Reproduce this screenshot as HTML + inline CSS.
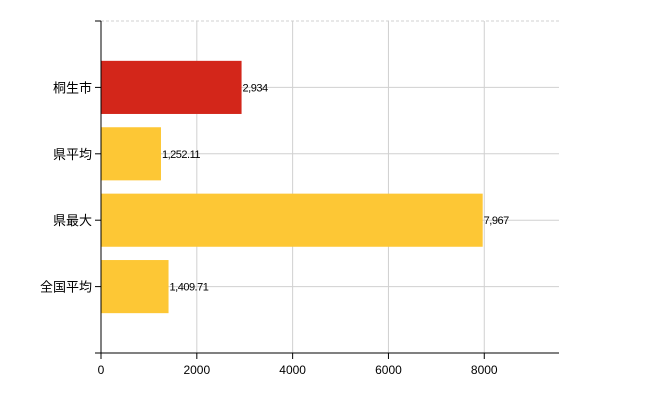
<!DOCTYPE html>
<html><head><meta charset="utf-8"><style>
body{margin:0;background:#fff;}
svg{font-family:"Liberation Sans","Noto Sans CJK JP",sans-serif;}
</style></head><body>
<svg id="c" width="650" height="400"></svg>
<script>
const categories=["桐生市","県平均","県最大","全国平均"];
const values=[2934,1252.11,7967,1409.71];
const valueLabels=["2,934","1,252.11","7,967","1,409.71"];
const xTicks=[0,2000,4000,6000,8000];
const colors=["#d3261a","#fdc735","#fdc735","#fdc735"];
const svg=document.getElementById('c');
const NS="http://www.w3.org/2000/svg";
const L=101,R=559,T=21,B=353,XMAX=9560;
const x=v=>L+v/XMAX*(R-L);
const band=(B-T)/(categories.length+1);
const yc=i=>T+band*(i+1);
function mk(t,a,p){const e=document.createElementNS(NS,t);for(const k in a)e.setAttribute(k,a[k]);(p||svg).appendChild(e);return e;}
// grid
let g=mk('line',{x1:L,x2:R,y1:T,y2:T,stroke:"#d0d0d0","stroke-dasharray":"3,2"});


xTicks.forEach(t=>{if(t===0)return;const l=mk('line',{x1:x(t),x2:x(t),y1:T,y2:B,stroke:"#d0d0d0"});

});
categories.forEach((c,i)=>{const l=mk('line',{x1:L,x2:R,y1:yc(i),y2:yc(i),stroke:"#d0d0d0"});

});
// bars
categories.forEach((c,i)=>{const h=band*0.8;
const r=mk('rect',{x:L,y:yc(i)-h/2,width:x(values[i])-L,height:h,fill:colors[i]});


const t=mk('text',{x:x(values[i])+1,y:yc(i)+4,"font-size":"11","letter-spacing":"-0.5"});t.textContent=valueLabels[i];


const tk=mk('line',{x1:95,x2:L,y1:yc(i),y2:yc(i),stroke:"#000"});


const lb=mk('text',{x:92,y:yc(i)+5,"font-size":"13","text-anchor":"end"});lb.textContent=c;

});
// axes
let ya=mk('line',{x1:L,x2:L,y1:T,y2:B,stroke:"#000"});


let yt=mk('line',{x1:95,x2:L,y1:T,y2:T,stroke:"#000"});


let xa=mk('line',{x1:95,x2:R,y1:B,y2:B,stroke:"#000"});


xTicks.forEach(t=>{const l=mk('line',{x1:x(t),x2:x(t),y1:B,y2:B+6,stroke:"#000"});


const tx=mk('text',{x:x(t),y:B+21,"font-size":"12","text-anchor":"middle"});tx.textContent=t;

});
</script>
</body></html>
